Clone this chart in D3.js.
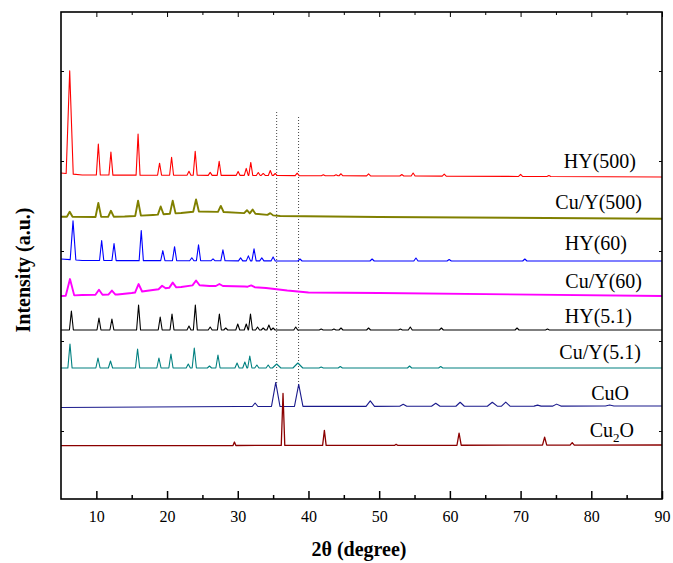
<!DOCTYPE html>
<html>
<head>
<meta charset="utf-8">
<script src="https://cdn.jsdelivr.net/npm/d3@7"></script>
<style>
body { margin: 0; background: #fff; }
text { font-family: "Liberation Serif", "Times New Roman", serif; }
</style>
</head>
<body>
<script>
// x ticks
var xMajor = [10, 20, 30, 40, 50, 60, 70, 80, 90];
var xMinor = [15, 25, 35, 45, 55, 65, 75, 85];

// sample names (top to bottom)
var names = ["HY(500)", "Cu/Y(500)", "HY(60)", "Cu/Y(60)", "HY(5.1)", "Cu/Y(5.1)", "CuO", "Cu2O"];
var colors = ["#ff0000", "#808000", "#0000ff", "#ff00ff", "#000000", "#008080", "#1a1a8c", "#8b0000"];

// backgrounds [2theta, intensity] (stacked, arbitrary units)
var hy500Base = [[5, 258], [8, 256], [35, 255.5], [90, 254]];
var cuy500Base = [[5, 214.3], [10, 214], [14, 214.5], [18, 216], [22, 218], [24, 219.5], [28, 219], [32, 217.5], [36, 215], [50, 214], [90, 212.3]];
var hy60Base = [[5, 172], [8, 170.5], [40, 170], [90, 170]];
var cuy60Base = [[5, 135], [8, 136], [13, 136.5], [15, 138], [18, 141], [20, 143], [22, 144], [24, 146], [26, 145], [28, 145], [31, 144.5], [34, 143], [37, 140.5], [40, 138.5], [50, 138], [90, 135]];
var hy51Base = [[5, 101], [90, 101]];
var cuy51Base = [[5, 63], [90, 63]];
var cuoBase = [[5, 23.5], [30, 24.5], [90, 25]];
var cu2oBase = [[5, -14.7], [90, -14]];

// peaks [2theta, height above background, half width at base]
var hy500Peaks = [[6.23, 103, 0.5], [10.28, 31], [12.06, 23], [15.9, 41], [18.94, 12], [20.64, 18], [23.1, 4], [23.98, 24],
  [26.1, 3], [27.37, 14], [30.05, 4], [31.2, 7], [31.84, 13], [32.9, 3], [33.6, 2], [34.6, 5], [35.3, 2], [38.4, 2.5],
  [42.1, 1], [43.9, 1], [44.6, 2], [48.5, 2], [53.2, 1.5], [54.8, 3], [59.2, 2], [70, 2], [74, 1]];
var cuy500Peaks = [[6.23, 5], [10.28, 14], [12.06, 6], [15.9, 15], [19.1, 8], [20.8, 13], [24.1, 12], [27.6, 6],
  [31.3, 3], [32.1, 4], [34.6, 2]];
var hy60Peaks = [[6.7, 39, 0.4], [10.75, 20], [12.5, 17], [16.35, 30], [19.4, 10], [21.06, 14], [23.5, 3], [24.45, 16],
  [26.5, 2], [27.9, 11], [30.4, 3], [31.5, 5], [32.3, 12], [33.4, 3], [35.0, 4], [38.8, 2], [49, 2], [55.2, 3],
  [59.9, 1.5], [70.6, 2]];
var cuy60Peaks = [[6.27, 16.5, 0.6], [10.37, 5], [12.2, 4], [15.97, 8], [19.3, 3], [20.8, 5], [24.1, 4.5], [27.4, 2], [31.9, 1.5]];
var hy51Peaks = [[6.47, 19], [10.37, 12], [12.2, 11], [15.97, 25], [19.03, 13], [20.7, 16], [23.1, 4], [24.0, 25],
  [26.1, 3], [27.4, 16], [28.3, 2], [30.0, 6], [31.2, 6], [31.8, 16], [32.8, 3], [33.6, 2], [34.4, 5], [35.0, 2],
  [38.2, 3], [41.8, 1], [43.6, 1], [44.6, 2], [48.5, 2], [53.0, 1], [54.4, 3], [58.8, 2], [69.5, 2], [73.8, 1]];
var cuy51Peaks = [[6.27, 24], [10.23, 10], [12.0, 7], [15.83, 19], [18.85, 10], [20.55, 14], [23.0, 4], [23.85, 20],
  [26.0, 2], [27.2, 13], [29.9, 5], [31.0, 6], [31.7, 12], [32.7, 3], [34.3, 3], [35.5, 4, 0.6], [38.5, 5, 0.7],
  [41.8, 1], [44.5, 1.5], [54.3, 2], [58.7, 1.5]];
var cuoPeaks = [[32.45, 3.5, 0.4], [35.37, 24], [38.62, 22], [48.74, 5.5], [53.4, 2, 0.5], [58.0, 3], [61.45, 4],
  [66.0, 4, 0.7], [67.9, 4], [72.4, 1, 0.5], [75.1, 2], [82.6, 1]];
var cu2oPeaks = [[29.53, 3.5, 0.2], [36.4, 52], [42.25, 15], [52.4, 1, 0.2], [61.3, 12, 0.3], [73.4, 8, 0.3], [77.3, 2.5, 0.3]];

// dotted reference lines [2theta, bottom, top]
var refLines = [[35.5, 48, 319], [38.6, 46, 316]];

var series = [
  { base: hy500Base, peaks: hy500Peaks, w: 0.28, sw: 1.1 },
  { base: cuy500Base, peaks: cuy500Peaks, w: 0.4, sw: 1.9 },
  { base: hy60Base, peaks: hy60Peaks, w: 0.3, sw: 1.1 },
  { base: cuy60Base, peaks: cuy60Peaks, w: 0.5, sw: 1.9 },
  { base: hy51Base, peaks: hy51Peaks, w: 0.28, sw: 1.1 },
  { base: cuy51Base, peaks: cuy51Peaks, w: 0.3, sw: 1.1 },
  { base: cuoBase, peaks: cuoPeaks, w: 0.6, sw: 1.1 },
  { base: cu2oBase, peaks: cu2oPeaks, w: 0.25, sw: 1.3 }
];
// label placement: right edge (px) and lift above trace end
var labelRight = [636, 642, 627, 642, 632, 641, 629, 634];
var labelLift = [9, 10, 11.5, 8.5, 7, 9.5, 6, 8.5];

var margin = { top: 12, right: 11, bottom: 64, left: 61 },
    width = 673 - margin.left - margin.right,
    height = 563 - margin.top - margin.bottom;

var svg = d3.select("body").append("svg")
    .attr("width", 673)
    .attr("height", 563)
    .append("g")
    .attr("transform", "translate(" + margin.left + "," + margin.top + ")");

var x = d3.scaleLinear().domain([5, 90]).range([0, width]);
var y = d3.scaleLinear().domain([-68, 419]).range([height, 0]);

function bgAt(base, v) {
    for (var i = 1; i < base.length; i++) {
        if (v <= base[i][0]) {
            var a = base[i - 1], b = base[i];
            return a[1] + (b[1] - a[1]) * (v - a[0]) / (b[0] - a[0]);
        }
    }
    return base[base.length - 1][1];
}

function pattern(s) {
    var pts = [];
    s.base.forEach(function (b) {
        var inside = s.peaks.some(function (p) { return Math.abs(b[0] - p[0]) < (p[2] || s.w); });
        if (!inside) pts.push(b);
    });
    s.peaks.forEach(function (p) {
        var w = p[2] || s.w;
        pts.push([p[0] - w, bgAt(s.base, p[0] - w)]);
        pts.push([p[0], bgAt(s.base, p[0]) + p[1]]);
        pts.push([p[0] + w, bgAt(s.base, p[0] + w)]);
    });
    pts.sort(function (a, b) { return a[0] - b[0]; });
    return pts;
}

var line = d3.line()
    .x(function (d) { return x(d[0]); })
    .y(function (d) { return y(d[1]); });

// reference lines
svg.selectAll(".ref")
    .data(refLines)
    .enter().append("line")
    .attr("x1", function (d) { return x(d[0]); })
    .attr("x2", function (d) { return x(d[0]); })
    .attr("y1", function (d) { return y(d[1]); })
    .attr("y2", function (d) { return y(d[2]); })
    .attr("stroke", "#444")
    .attr("stroke-width", 1)
    .attr("stroke-dasharray", "1,2");

svg.selectAll(".trace")
    .data(series)
    .enter().append("path")
    .attr("class", "trace")
    .attr("fill", "none")
    .attr("stroke", function (d, i) { return colors[i]; })
    .attr("stroke-width", function (d) { return d.sw; })
    .attr("stroke-linejoin", "round")
    .attr("d", function (d) { return line(pattern(d)); });

// labels
var labels = svg.selectAll(".lab")
    .data(names)
    .enter().append("text")
    .attr("x", function (d, i) { return labelRight[i] - margin.left; })
    .attr("y", function (d, i) {
        var b = series[i].base;
        return y(b[b.length - 1][1]) - labelLift[i];
    })
    .attr("text-anchor", "end")
    .attr("font-size", 20)
    .attr("fill", "#000");

labels.each(function (d) {
    var t = d3.select(this);
    if (d === "Cu2O") {
        t.append("tspan").text("Cu");
        t.append("tspan").attr("font-size", 13).attr("dy", 5).text("2");
        t.append("tspan").attr("dy", -5).text("O");
    } else {
        t.text(d);
    }
});

// axes (ticks inside)
svg.append("g")
    .attr("transform", "translate(0," + height + ")")
    .call(d3.axisBottom(x).tickValues(xMajor).tickSize(-8).tickPadding(12).tickFormat(d3.format("d")))
    .call(function (g) {
        g.select(".domain").remove();
        g.selectAll("text").attr("font-size", 16).attr("font-family", "Liberation Serif").attr("fill", "#000");
        g.selectAll("line").attr("stroke-width", 1.5);
    });
svg.append("g")
    .attr("transform", "translate(0," + height + ")")
    .call(d3.axisBottom(x).tickValues(xMinor).tickSize(-4).tickFormat(""))
    .call(function (g) { g.select(".domain").remove(); g.selectAll("line").attr("stroke-width", 1.5); });
svg.append("g")
    .call(d3.axisTop(x).tickValues(xMajor).tickSize(-5).tickFormat(""))
    .call(function (g) { g.select(".domain").remove(); g.selectAll("line").attr("stroke-width", 1); });
svg.append("g")
    .call(d3.axisTop(x).tickValues(xMinor).tickSize(-3).tickFormat(""))
    .call(function (g) { g.select(".domain").remove(); g.selectAll("line").attr("stroke-width", 1); });
svg.append("g")
    .call(d3.axisLeft(y).tickValues(d3.range(0, 419, 90)).tickSize(-3).tickFormat(""))
    .call(function (g) { g.select(".domain").remove(); });
svg.append("g")
    .attr("transform", "translate(" + width + ",0)")
    .call(d3.axisRight(y).tickValues(d3.range(0, 419, 90)).tickSize(-3).tickFormat(""))
    .call(function (g) { g.select(".domain").remove(); });

// frame
svg.append("rect")
    .attr("width", width)
    .attr("height", height)
    .attr("fill", "none")
    .attr("stroke", "#000")
    .attr("stroke-width", 1.6);

// axis titles
svg.append("text")
    .attr("x", 359 - margin.left)
    .attr("y", height + 57)
    .attr("text-anchor", "middle")
    .attr("font-size", 20)
    .attr("font-weight", "bold")
    .text("2θ (degree)");

svg.append("text")
    .attr("transform", "translate(" + (30 - margin.left) + "," + (270 - margin.top) + ") rotate(-90)")
    .attr("text-anchor", "middle")
    .attr("font-size", 20)
    .attr("font-weight", "bold")
    .text("Intensity (a.u.)");
</script>
</body>
</html>
